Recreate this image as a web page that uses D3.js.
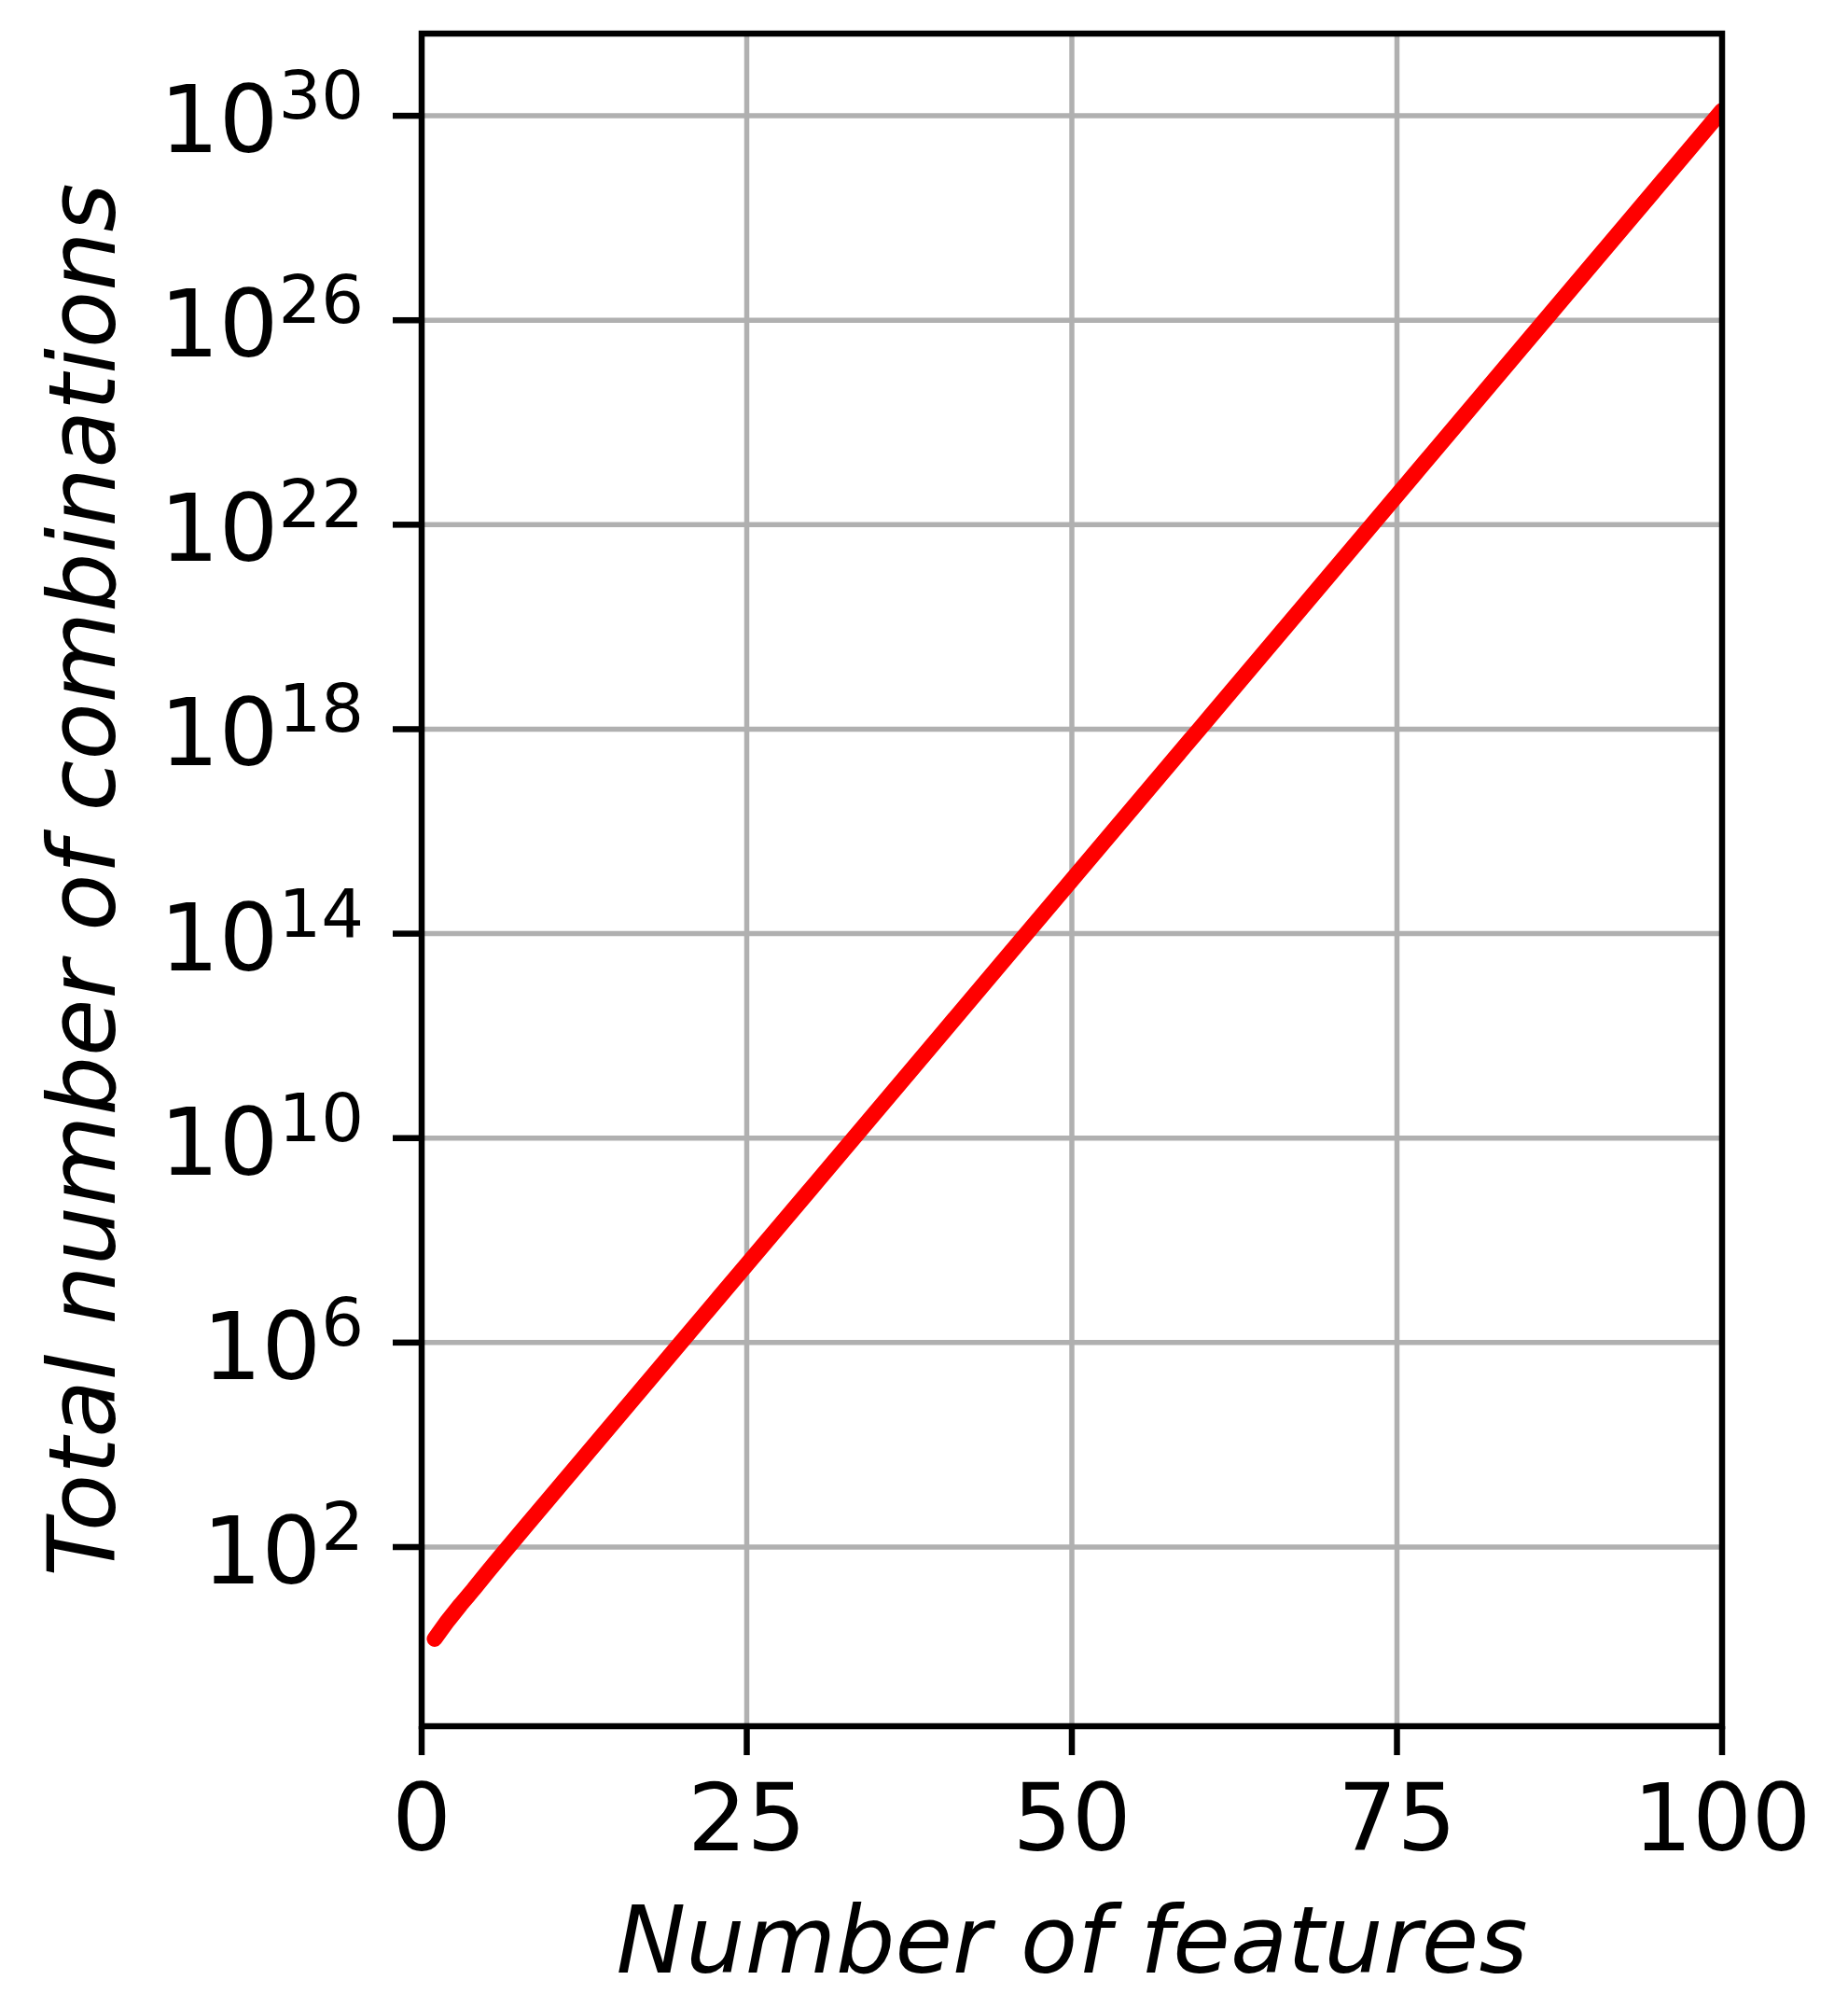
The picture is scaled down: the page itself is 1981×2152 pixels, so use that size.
<!DOCTYPE html>
<html>
<head>
<meta charset="utf-8">
<script src="https://cdn.jsdelivr.net/npm/d3@7"></script>
<style>
  html, body { margin: 0; padding: 0; background: #ffffff; }
  svg { display: block; }
  text { font-family: "DejaVu Sans", sans-serif; fill: #000; }
</style>
</head>
<body>
<svg id="chart" width="1981" height="2152"></svg>
<script>
// Data (number of features vs total number of combinations)
const features = [1, 2, 3, 4, 5, 6, 8, 10, 15, 20, 25, 30, 40, 50, 60, 70, 80, 90, 100];
const combinations = [1.6, 3.6, 7.5, 15, 31, 63, 255, 1023, 32767, 1.05e6, 3.36e7, 1.07e9, 1.1e12, 1.13e15, 1.15e18, 1.18e21, 1.21e24, 1.24e27, 1.27e30];
const xTicks = [0, 25, 50, 75, 100];
const yTickExponents = [2, 6, 10, 14, 18, 22, 26, 30];
const xTitle = "Number of features";
const yTitle = "Total number of combinations";

(function () {
const W = 1981, H = 2152;
const pL = 452, pR = 1846, pT = 36, pB = 1850;

const svg = d3.select("#chart");
svg.append("rect").attr("width", W).attr("height", H).attr("fill", "#fff");

const x = d3.scaleLinear().domain([0, 100]).range([pL, pR]);
const y = d3.scaleLog().domain([Math.pow(10, -1.505), Math.pow(10, 31.608)]).range([pB, pT]);

const gridColor = "#b0b0b0";
const gridW = 5.5, spineW = 6.5, tickLen = 31;

// Grid
const grid = svg.append("g");
grid.selectAll("line.gx").data(xTicks).enter().append("line")
  .attr("x1", d => x(d)).attr("x2", d => x(d))
  .attr("y1", pT).attr("y2", pB)
  .attr("stroke", gridColor).attr("stroke-width", gridW);
grid.selectAll("line.gy").data(yTickExponents).enter().append("line")
  .attr("x1", pL).attr("x2", pR)
  .attr("y1", d => y(Math.pow(10, d))).attr("y2", d => y(Math.pow(10, d)))
  .attr("stroke", gridColor).attr("stroke-width", gridW);

// Line
svg.append("clipPath").attr("id", "plotclip").append("rect")
  .attr("x", pL).attr("y", pT).attr("width", pR - pL).attr("height", pB - pT);

const pts = features.map((f, i) => [f, combinations[i]]);
svg.append("path")
  .datum(pts)
  .attr("clip-path", "url(#plotclip)")
  .attr("d", d3.line().x(d => x(d[0])).y(d => y(d[1])))
  .attr("fill", "none")
  .attr("stroke", "#ff0000")
  .attr("stroke-width", 17)
  .attr("stroke-linecap", "round")
  .attr("stroke-linejoin", "round");

// X axis ticks & labels
const xa = svg.append("g");
xa.selectAll("line").data(xTicks).enter().append("line")
  .attr("x1", d => x(d)).attr("x2", d => x(d))
  .attr("y1", pB).attr("y2", pB + tickLen)
  .attr("stroke", "#000").attr("stroke-width", spineW);
xa.selectAll("text").data(xTicks).enter().append("text")
  .attr("x", d => x(d)).attr("y", pB + 133)
  .attr("text-anchor", "middle")
  .attr("font-size", 100)
  .text(d => d);

// Y axis ticks & labels
const ya = svg.append("g");
ya.selectAll("line").data(yTickExponents).enter().append("line")
  .attr("x1", pL - tickLen).attr("x2", pL)
  .attr("y1", d => y(Math.pow(10, d))).attr("y2", d => y(Math.pow(10, d)))
  .attr("stroke", "#000").attr("stroke-width", spineW);
const yl = ya.selectAll("text").data(yTickExponents).enter().append("text")
  .attr("x", pL - tickLen - 31)
  .attr("y", d => y(Math.pow(10, d)) + 39)
  .attr("text-anchor", "end")
  .attr("font-size", 100);
yl.append("tspan").text("10");
yl.append("tspan").attr("font-size", 72).attr("dy", -36).text(d => d);

// Spines
svg.append("rect")
  .attr("x", pL).attr("y", pT).attr("width", pR - pL).attr("height", pB - pT)
  .attr("fill", "none").attr("stroke", "#000").attr("stroke-width", spineW);

// Titles
svg.append("text")
  .attr("x", (pL + pR) / 2).attr("y", 2114)
  .attr("text-anchor", "middle")
  .attr("font-size", 100)
  .attr("font-style", "italic")
  .text(xTitle);
svg.append("text")
  .attr("transform", `translate(123, ${(pT + pB) / 2}) rotate(-90)`)
  .attr("text-anchor", "middle")
  .attr("font-size", 100)
  .attr("font-style", "italic")
  .text(yTitle);
})();
</script>
</body>
</html>
